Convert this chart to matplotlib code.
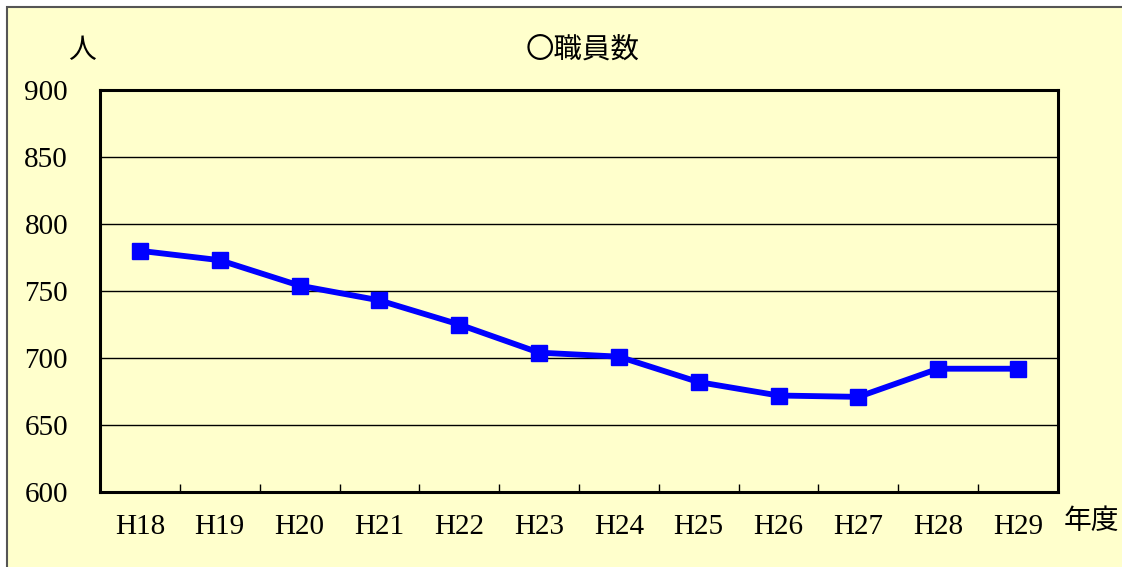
import matplotlib.pyplot as plt
from matplotlib.patches import Rectangle

# 年度
years = ['H18', 'H19', 'H20', 'H21', 'H22', 'H23', 'H24', 'H25', 'H26', 'H27', 'H28', 'H29']
# 職員数（人）
staff = [780, 773, 754, 743, 725, 704, 701, 682, 672, 671, 692, 692]
y_ticks = [600, 650, 700, 750, 800, 850, 900]

bg = '#FFFFCC'
jp = ['Noto Sans CJK JP', 'DejaVu Sans']
num = 'Liberation Serif'

fig = plt.figure(figsize=(11.22, 5.67), dpi=100, facecolor='white')
# 外枠
fig.patches.append(Rectangle((7 / 1122, -0.1), 1.2, 1.1 - 7 / 567,
                             transform=fig.transFigure, facecolor=bg,
                             edgecolor='#555555', linewidth=1.5, zorder=-10))

ax = fig.add_axes([100 / 1122, 75 / 567, 958 / 1122, 402 / 567])
ax.set_zorder(1)
ax.set_facecolor(bg)

x = range(len(years))
ax.plot(x, staff, color='#0000FF', linewidth=4.2, marker='s', markersize=11.5,
        zorder=3, clip_on=False)

ax.set_xlim(-0.5, len(years) - 0.5)
ax.set_ylim(600, 900)
ax.set_yticks(y_ticks)
ax.set_yticklabels([str(v) for v in y_ticks], fontfamily=num, fontsize=21)
ax.set_xticks(list(x))
ax.set_xticklabels(years, fontfamily=num, fontsize=21)
ax.set_xticks([i + 0.5 for i in range(len(years) - 1)], minor=True)
ax.tick_params(axis='x', which='major', length=0, pad=16)
ax.tick_params(axis='x', which='minor', direction='in', length=6, width=1, color='black')
ax.tick_params(axis='y', length=0, pad=23)
ax.grid(axis='y', color='black', linewidth=1)
ax.set_axisbelow(True)

for s in ax.spines.values():
    s.set_linewidth(2.2)
    s.set_color('black')

fig.text(583 / 1122, 1 - 50 / 567, '〇職員数', family=jp, fontsize=20.5, ha='center', va='center')
fig.text(82 / 1122, 1 - 50 / 567, '人', family=jp, fontsize=20, ha='center', va='center')
fig.text(1091 / 1122, 1 - 521 / 567, '年度', family=jp, fontsize=20, ha='center', va='center')

fig.savefig('out.png', dpi=100, facecolor=fig.get_facecolor())
